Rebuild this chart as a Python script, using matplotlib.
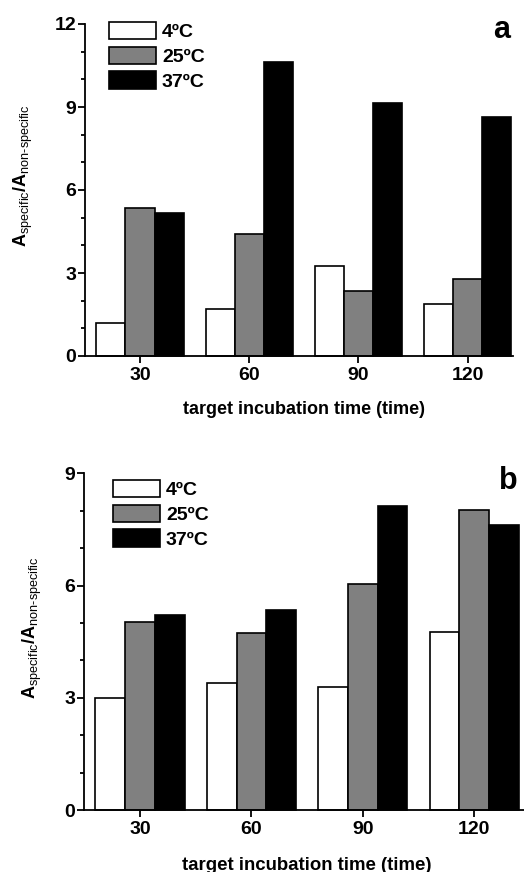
import matplotlib
matplotlib.use("Agg")
import matplotlib.pyplot as plt
from matplotlib.ticker import MultipleLocator
import numpy as np

plt.rcParams['font.family'] = ['Liberation Sans', 'DejaVu Sans']
plt.rcParams['mathtext.fontset'] = 'custom'
plt.rcParams['mathtext.rm'] = 'Liberation Sans'
plt.rcParams['mathtext.bf'] = 'Liberation Sans:bold'
plt.rcParams['mathtext.it'] = 'Liberation Sans'

times = [30, 60, 90, 120]
series_labels = ['4ºC', '25ºC', '37ºC']
colors = ['white', '#808080', 'black']

a_4 = [1.20, 1.70, 3.26, 1.88]
a_25 = [5.34, 4.42, 2.35, 2.79]
a_37 = [5.16, 10.62, 9.16, 8.65]

b_4 = [3.00, 3.39, 3.29, 4.75]
b_25 = [5.03, 4.72, 6.04, 8.03]
b_37 = [5.21, 5.34, 8.13, 7.61]

a_yticks = [0, 3, 6, 9, 12]
b_yticks = [0, 3, 6, 9]

xlabel = 'target incubation time (time)'
ylabel = r'$\mathbf{A}_{\mathrm{specific}}\mathbf{/A}_{\mathrm{non\text{-}specific}}$'

W, H = 524, 872
fig = plt.figure(figsize=(W / 100, H / 100), dpi=100)

def px(x0, y0, x1, y1):
    return [x0 / W, 1 - y1 / H, (x1 - x0) / W, (y1 - y0) / H]

def ftext(xp, yp, s, **kw):
    return fig.text(xp / W, 1 - yp / H, s, ha='center', va='center', **kw)

def panel(rect, data, yticks, xlim, letter, letter_xy, leg_anchor,
          xlab_xy, ylab_xy, xlab_size):
    ax = fig.add_axes(rect)
    width = 8
    offsets = [-width, 0, width]
    x = np.array(times, dtype=float)
    handles = []
    for vals, off, c, lab in zip(data, offsets, colors, series_labels):
        h = ax.bar(x + off, vals, width=width, color=c, edgecolor='black',
                   linewidth=1.2, label=lab, clip_on=False)
        handles.append(h)
    ax.set_xlim(*xlim)
    ax.set_ylim(yticks[0], yticks[-1])
    ax.set_yticks(yticks)
    ax.yaxis.set_minor_locator(MultipleLocator(1))
    ax.set_xticks(times)
    ax.set_xticklabels([str(t) for t in times])
    for s in ['top', 'right']:
        ax.spines[s].set_visible(False)
    for s in ['left', 'bottom']:
        ax.spines[s].set_linewidth(1.3)
    ax.tick_params(axis='both', which='major', direction='out', length=5,
                   width=1.3, labelsize=14)
    ax.tick_params(axis='y', which='major', pad=1.5)
    ax.tick_params(axis='x', which='major', pad=3)
    ax.tick_params(axis='y', which='minor', direction='out', length=3, width=1.3)
    for lbl in ax.get_xticklabels() + ax.get_yticklabels():
        lbl.set_fontweight('bold')
    ftext(xlab_xy[0], xlab_xy[1], xlabel, fontsize=xlab_size, fontweight='bold')
    ftext(ylab_xy[0], ylab_xy[1], ylabel, fontsize=13, rotation=90)
    ftext(letter_xy[0], letter_xy[1], letter, fontsize=22, fontweight='bold')
    ax.legend(handles=handles, loc='upper left',
              bbox_to_anchor=(leg_anchor[0] / W, 1 - leg_anchor[1] / H),
              bbox_transform=fig.transFigure, frameon=False,
              prop={'weight': 'bold', 'size': 14},
              handlelength=2.42, handleheight=1.0, handletextpad=0.3,
              labelspacing=0.27, borderpad=0, borderaxespad=0)
    return ax

# Panel a: y=12 at 24px, y=0 at 356px; x from 85.4 to 513
panel(px(85.4, 24, 513.2, 356), [a_4, a_25, a_37], a_yticks, (15, 132.5),
      'a', (502, 30), (109, 22), (304, 409), (23, 176), 13)

# Panel b: y=9 at 473.3, y=0 at 810; x from 84.3 to 530
panel(px(84.3, 473.3, 530, 810), [b_4, b_25, b_37], b_yticks, (15, 135),
      'b', (508, 481), (113, 480), (307, 865), (32, 628), 13.4)

fig.savefig('out.png', dpi=100)
